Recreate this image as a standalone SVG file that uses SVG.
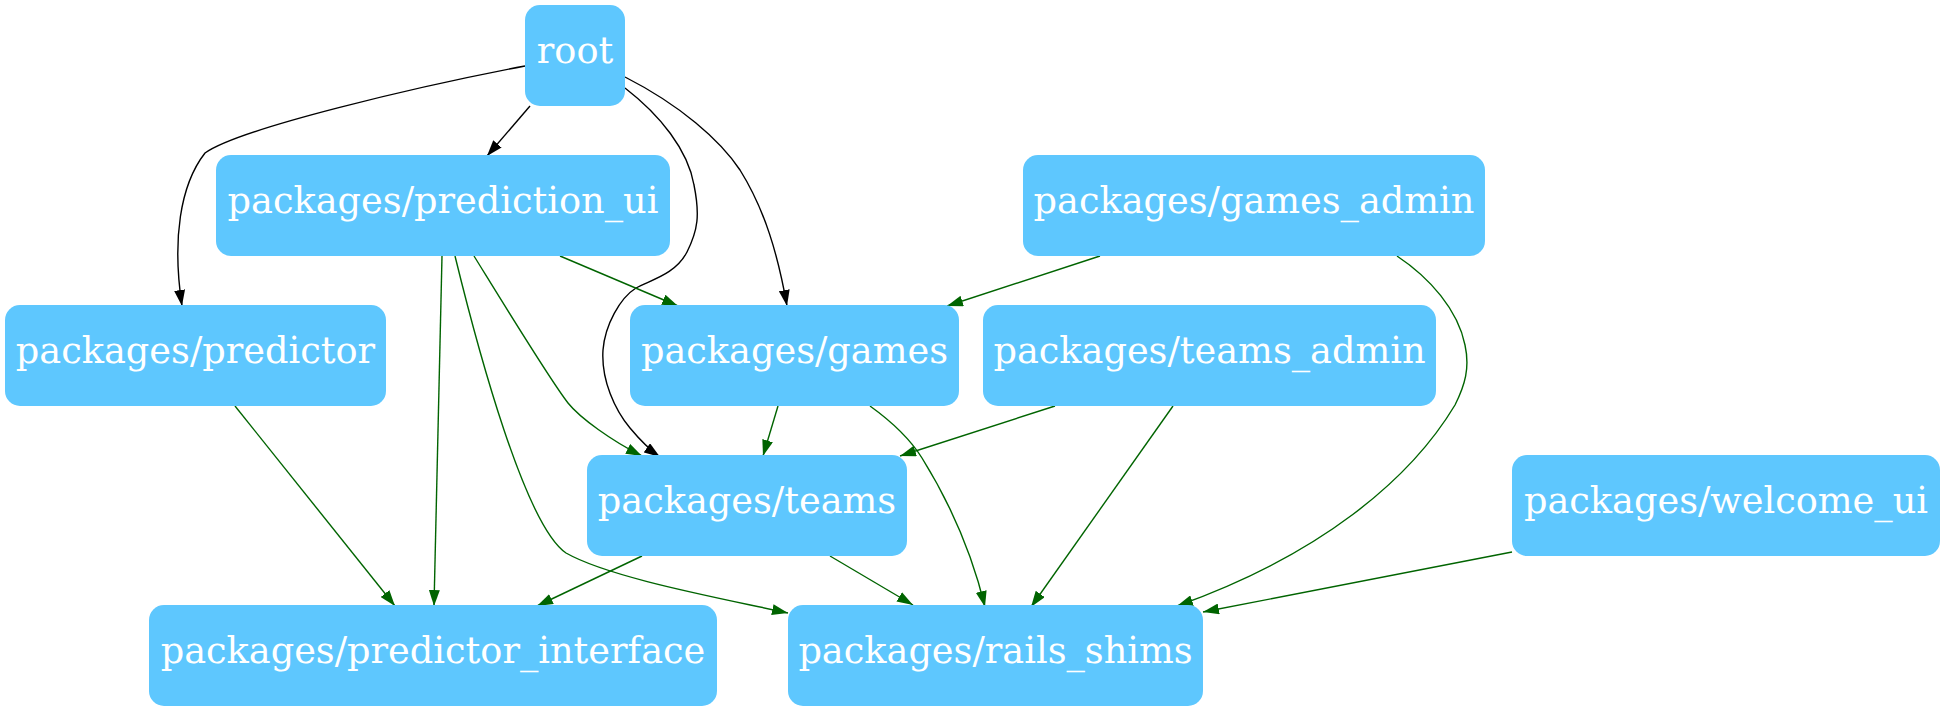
<svg xmlns="http://www.w3.org/2000/svg" width="1945" height="711" viewBox="0 0 1945 711">
<style>
.n rect{fill:#5ec7fe;stroke:none}
.n text{fill:#ffffff;font-family:"DejaVu Serif",serif;font-size:36.7px;text-anchor:middle}
.e path{fill:none;stroke-width:1.4}
.k{stroke:#000000}
.g{stroke:#006400}
</style>
<defs>
<marker id="ak" viewBox="0 0 16 11" refX="16" refY="5.5" markerWidth="16" markerHeight="11" markerUnits="userSpaceOnUse" orient="auto"><path d="M0,0 L16,5.5 L0,11 z" fill="#000000"/></marker>
<marker id="ag" viewBox="0 0 16 11" refX="16" refY="5.5" markerWidth="16" markerHeight="11" markerUnits="userSpaceOnUse" orient="auto"><path d="M0,0 L16,5.5 L0,11 z" fill="#006400"/></marker>
</defs>
<rect x="0" y="0" width="1945" height="711" fill="#ffffff"/>
<g id="edges" class="e">
<path class="k" marker-end="url(#ak)" d="M530,106 L487,156"/>
<path class="k" marker-end="url(#ak)" d="M525,66 C420,86 240,128 205,153 C180,185 172,240 182,306"/>
<path class="k" marker-end="url(#ak)" d="M625,77 C680,105 720,140 740,170 C765,210 778,255 787,306"/>
<path class="k" marker-end="url(#ak)" d="M625,88 C660,115 688,150 694,185 C700,215 698,230 687,252 C675,275 650,280 636,288 C620,298 605,325 603,350 C601,380 615,410 630,428 C640,440 650,450 660,457"/>
<path class="g" marker-end="url(#ag)" d="M560,256 L678,306"/>
<path class="g" marker-end="url(#ag)" d="M442,256 L434,606"/>
<path class="g" marker-end="url(#ag)" d="M455,256 C478,350 525,525 566,553 C610,578 720,598 788,613"/>
<path class="g" marker-end="url(#ag)" d="M474,256 C500,298 550,380 568,403 C580,418 612,441 642,456"/>
<path class="g" marker-end="url(#ag)" d="M235,406 L395,606"/>
<path class="g" marker-end="url(#ag)" d="M642,556 L537,606"/>
<path class="g" marker-end="url(#ag)" d="M778,406 L763,456"/>
<path class="g" marker-end="url(#ag)" d="M1100,256 L947,306"/>
<path class="g" marker-end="url(#ag)" d="M1055,406 L900,456"/>
<path class="g" marker-end="url(#ag)" d="M870,406 C895,424 912,442 922,458 C945,495 970,545 985,607"/>
<path class="g" marker-end="url(#ag)" d="M1173,406 L1031,607"/>
<path class="g" marker-end="url(#ag)" d="M830,556 L913,605"/>
<path class="g" marker-end="url(#ag)" d="M1397,256 C1430,278 1458,310 1465,345 C1470,368 1465,385 1455,405 C1410,480 1320,555 1177,606"/>
<path class="g" marker-end="url(#ag)" d="M1512,552 L1203,612"/>
</g>
<g id="root" class="n"><rect x="525" y="5" width="100" height="101" rx="15"/><text x="575" y="63">root</text></g>
<g id="prediction_ui" class="n"><rect x="216" y="155" width="454" height="101" rx="15"/><text x="443" y="213">packages/prediction_ui</text></g>
<g id="games_admin" class="n"><rect x="1023" y="155" width="462" height="101" rx="15"/><text x="1254" y="213">packages/games_admin</text></g>
<g id="predictor" class="n"><rect x="5" y="305" width="381" height="101" rx="15"/><text x="195.5" y="363">packages/predictor</text></g>
<g id="games" class="n"><rect x="630" y="305" width="329" height="101" rx="15"/><text x="794.5" y="363">packages/games</text></g>
<g id="teams_admin" class="n"><rect x="983" y="305" width="453" height="101" rx="15"/><text x="1209.5" y="363">packages/teams_admin</text></g>
<g id="teams" class="n"><rect x="587" y="455" width="320" height="101" rx="15"/><text x="747" y="513">packages/teams</text></g>
<g id="welcome_ui" class="n"><rect x="1512" y="455" width="428" height="101" rx="15"/><text x="1726" y="513">packages/welcome_ui</text></g>
<g id="predictor_interface" class="n"><rect x="149" y="605" width="568" height="101" rx="15"/><text x="433" y="663">packages/predictor_interface</text></g>
<g id="rails_shims" class="n"><rect x="788" y="605" width="415" height="101" rx="15"/><text x="995.5" y="663">packages/rails_shims</text></g>
</svg>
